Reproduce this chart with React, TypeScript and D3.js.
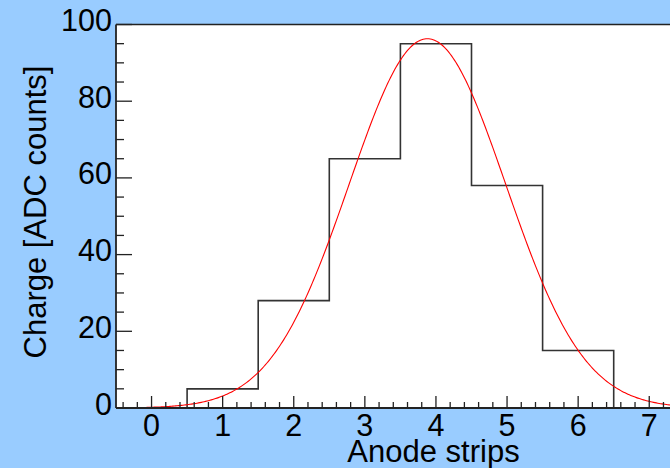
import React from "react";
import * as d3 from "d3";

const binCenters = [0, 1, 2, 3, 4, 5, 6, 7];
const binValues = [0, 5, 28, 65, 95, 58, 15, 0];
const xTickValues = [0, 1, 2, 3, 4, 5, 6, 7];
const yTickValues = [0, 20, 40, 60, 80, 100];
const fitParams = { constant: 96.3, mean: 3.88, sigma: 1.1 };
const xTitle = "Anode strips";
const yTitle = "Charge [ADC counts]";

const W = 670;
const H = 468;
const BG = "#99ccff";
const FONT = "'Liberation Sans', Arial, Helvetica, sans-serif";

export default function App() {
  const x = d3.scaleLinear().domain([-0.5, 7.5]).range([116, 116 + 8 * 71.1]);
  const y = d3.scaleLinear().domain([0, 100]).range([408, 24.5]);

  // histogram step outline
  const pts: [number, number][] = [];
  binCenters.forEach((c, i) => {
    pts.push([c - 0.5, binValues[i]]);
    pts.push([c + 0.5, binValues[i]]);
  });
  const histLine = d3
    .line<[number, number]>()
    .x((d) => x(d[0]))
    .y((d) => y(d[1]));
  const histPath = histLine([[-0.5, 0], ...pts]) || "";

  const gauss = (v: number) =>
    fitParams.constant *
    Math.exp(-((v - fitParams.mean) ** 2) / (2 * fitParams.sigma ** 2));
  const fitX = d3.range(-0.5, 7.5001, 0.02);
  const fitPath =
    d3
      .line<number>()
      .x((v) => x(v))
      .y((v) => y(gauss(v)))(fitX) || "";

  const xMinor = d3.range(-0.4, 7.5, 0.2).filter(
    (v) => Math.abs(v - Math.round(v)) > 1e-6
  );
  const yMinor = d3.range(0, 100.01, 5).filter((v) => v % 20 !== 0);

  const x0 = x(-0.5);
  const y0 = y(0);
  const yTop = y(100);
  const axisColor = "#222";

  return (
    <svg
      width={W}
      height={H}
      style={{ position: "absolute", left: 0, top: 0, display: "block" }}
      fontFamily={FONT}
    >
      <rect x={0} y={0} width={W} height={H} fill={BG} />
      <rect x={x0} y={yTop} width={W - x0} height={y0 - yTop} fill="#ffffff" />

      {/* histogram */}
      <path d={histPath} fill="none" stroke="#333" strokeWidth={1.6} />
      {/* fit */}
      <path d={fitPath} fill="none" stroke="#ff0000" strokeWidth={1.1} />

      {/* frame top */}
      <line x1={x0} x2={W} y1={yTop} y2={yTop} stroke={axisColor} strokeWidth={1.6} />

      {/* x axis */}
      <line x1={x0} x2={W} y1={y0} y2={y0} stroke={axisColor} strokeWidth={1.8} />
      {xTickValues.map((v) => (
        <line key={"xM" + v} x1={x(v)} x2={x(v)} y1={y0} y2={y0 - 12} stroke={axisColor} strokeWidth={1.3} />
      ))}
      {xMinor.map((v, i) => (
        <line key={"xm" + i} x1={x(v)} x2={x(v)} y1={y0} y2={y0 - 6} stroke={axisColor} strokeWidth={1.3} />
      ))}
      {xTickValues.map((v) => (
        <text key={"xl" + v} x={x(v)} y={436} textAnchor="middle" fontSize={30.5} fill="#000">
          {v}
        </text>
      ))}

      {/* y axis */}
      <line x1={x0} x2={x0} y1={yTop} y2={y0} stroke={axisColor} strokeWidth={1.8} />
      {yTickValues.map((v) => (
        <line key={"yM" + v} x1={x0} x2={x0 + 16} y1={y(v)} y2={y(v)} stroke={axisColor} strokeWidth={1.3} />
      ))}
      {yMinor.map((v) => (
        <line key={"ym" + v} x1={x0} x2={x0 + 8} y1={y(v)} y2={y(v)} stroke={axisColor} strokeWidth={1.3} />
      ))}
      {yTickValues.map((v) => (
        <text key={"yl" + v} x={112} y={y(v) + 6.5} textAnchor="end" fontSize={30.5} fill="#000">
          {v}
        </text>
      ))}

      {/* titles */}
      <text x={433.5} y={462} textAnchor="middle" fontSize={31} fill="#000">
        {xTitle}
      </text>
      <text
        transform={`translate(45.5, 212) rotate(-90)`}
        textAnchor="middle"
        fontSize={31}
        fill="#000"
      >
        {yTitle}
      </text>
    </svg>
  );
}
